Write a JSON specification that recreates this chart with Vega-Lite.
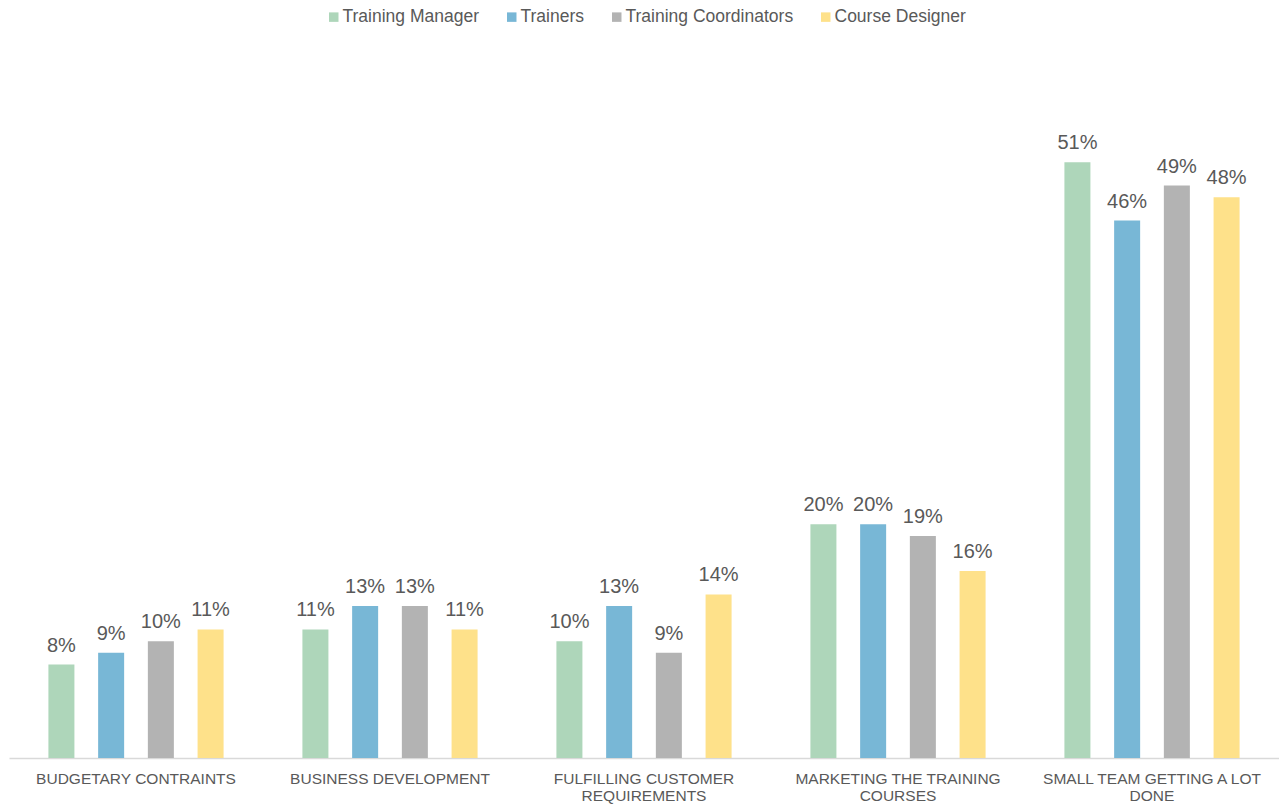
{
  "$schema": "https://vega.github.io/schema/vega-lite/v6.json",
  "width": 1270,
  "height": 701,
  "autosize": {"type": "none"},
  "padding": {"left": 9, "top": 57, "right": 0, "bottom": 47},
  "background": "white",
  "config": {
    "view": {"stroke": null},
    "font": "Liberation Sans"
  },
  "data": {
    "values": [
      {"category": "Budgetary contraints", "role": "Training Manager", "value": 0.08},
      {"category": "Budgetary contraints", "role": "Trainers", "value": 0.09},
      {"category": "Budgetary contraints", "role": "Training Coordinators", "value": 0.10},
      {"category": "Budgetary contraints", "role": "Course Designer", "value": 0.11},
      {"category": "Business development", "role": "Training Manager", "value": 0.11},
      {"category": "Business development", "role": "Trainers", "value": 0.13},
      {"category": "Business development", "role": "Training Coordinators", "value": 0.13},
      {"category": "Business development", "role": "Course Designer", "value": 0.11},
      {"category": "Fulfilling customer requirements", "role": "Training Manager", "value": 0.10},
      {"category": "Fulfilling customer requirements", "role": "Trainers", "value": 0.13},
      {"category": "Fulfilling customer requirements", "role": "Training Coordinators", "value": 0.09},
      {"category": "Fulfilling customer requirements", "role": "Course Designer", "value": 0.14},
      {"category": "Marketing the training courses", "role": "Training Manager", "value": 0.20},
      {"category": "Marketing the training courses", "role": "Trainers", "value": 0.20},
      {"category": "Marketing the training courses", "role": "Training Coordinators", "value": 0.19},
      {"category": "Marketing the training courses", "role": "Course Designer", "value": 0.16},
      {"category": "Small team getting a lot done", "role": "Training Manager", "value": 0.51},
      {"category": "Small team getting a lot done", "role": "Trainers", "value": 0.46},
      {"category": "Small team getting a lot done", "role": "Training Coordinators", "value": 0.49},
      {"category": "Small team getting a lot done", "role": "Course Designer", "value": 0.48}
    ]
  },
  "encoding": {
    "x": {
      "field": "category",
      "type": "nominal",
      "sort": null,
      "scale": {"paddingInner": 0.217, "paddingOuter": 0.1085},
      "axis": {
        "title": null,
        "labelAngle": 0,
        "ticks": false,
        "domainColor": "#D9D9D9",
        "domainWidth": 1.5,
        "labelColor": "#595959",
        "labelFontSize": 15.5,
        "labelFont": "Liberation Sans",
        "labelPadding": 13,
        "labelLineHeight": 17.5,
        "labelLimit": 0,
        "labelBaseline": "top",
        "labelExpr": "datum.label == 'Fulfilling customer requirements' ? ['FULFILLING CUSTOMER', 'REQUIREMENTS'] : datum.label == 'Marketing the training courses' ? ['MARKETING THE TRAINING', 'COURSES'] : datum.label == 'Small team getting a lot done' ? ['SMALL TEAM GETTING A LOT', 'DONE'] : upper(datum.label)"
      }
    },
    "xOffset": {
      "field": "role",
      "type": "nominal",
      "sort": ["Training Manager", "Trainers", "Training Coordinators", "Course Designer"],
      "scale": {"paddingInner": 0.477, "paddingOuter": 0.2385}
    },
    "y": {
      "field": "value",
      "type": "quantitative",
      "scale": {"domain": [0, 0.6], "nice": false},
      "axis": null
    }
  },
  "layer": [
    {
      "mark": {"type": "bar"},
      "encoding": {
        "color": {
          "field": "role",
          "type": "nominal",
          "sort": ["Training Manager", "Trainers", "Training Coordinators", "Course Designer"],
          "scale": {
            "domain": ["Training Manager", "Trainers", "Training Coordinators", "Course Designer"],
            "range": ["#AED6BA", "#78B7D6", "#B3B3B3", "#FEE18A"]
          },
          "legend": {
            "title": null,
            "orient": "none",
            "direction": "horizontal",
            "legendX": 316,
            "legendY": -49,
            "symbolType": "square",
            "symbolSize": 90,
            "symbolStrokeWidth": 0,
            "labelFontSize": 17.5,
            "labelColor": "#595959",
            "labelFont": "Liberation Sans",
            "labelOffset": 0,
            "columnPadding": 23,
            "labelLimit": 0
          }
        }
      }
    },
    {
      "mark": {
        "type": "text",
        "fontSize": 20,
        "color": "#595959",
        "font": "Liberation Sans",
        "baseline": "alphabetic",
        "align": "center",
        "dy": -13
      },
      "encoding": {
        "text": {"field": "value", "type": "quantitative", "format": ".0%"}
      }
    }
  ]
}
